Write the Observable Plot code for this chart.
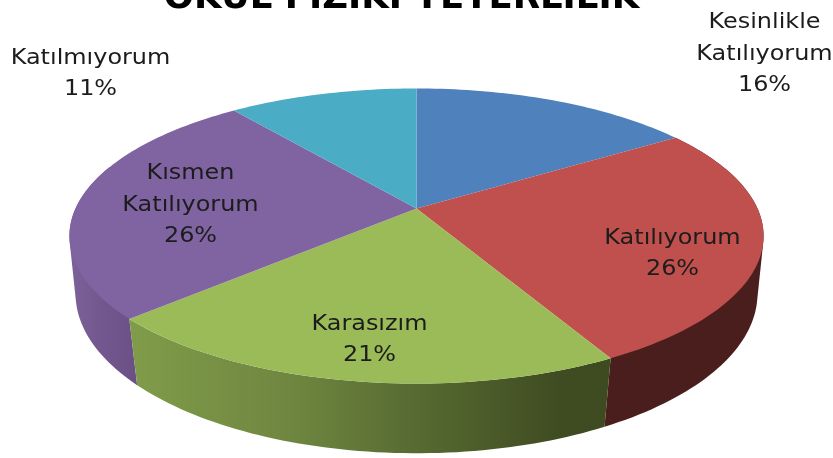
<!DOCTYPE html>
<html><head><meta charset="utf-8">
<script src="https://cdn.jsdelivr.net/npm/d3@7"></script>
<script src="https://cdn.jsdelivr.net/npm/@observablehq/plot@0.6"></script>
<style>html,body{margin:0;padding:0;background:#fff;overflow:hidden}svg{display:block;filter:blur(.45px)}</style>
</head><body><div id="chart"></div>
<script>
const categories = ["Kesinlikle Katılıyorum","Katılıyorum","Karasızım","Kısmen Katılıyorum","Katılmıyorum"];
const counts = [3,5,4,5,2];
const colors = ["#4f81bd","#c0504d","#9bbb59","#8064a2","#4bacc6"];
const labelNames = ["Kesinlikle\nKatılıyorum","Katılıyorum","Karasızım","Kısmen\nKatılıyorum","Katılmıyorum"];
const labelX = [764,672,369,190,90];
const labelY = [49,249,335,200,69];

const W=833,H=458;
const total=d3.sum(counts);
const starts=d3.cumsum([0,...counts]);
const labels=labelNames.map((n,i)=>`${n}\n${Math.round(counts[i]/total*100)}%`);
const top3d={x0:416,y0:208,c:341,a:142.4,b:0.1864};
const bot3d={x0:416,y0:266,c:336,a:155,b:0.17};
const proj=(p,s)=>{const t=s/total*2*Math.PI,X=Math.sin(t),Y=-Math.cos(t),d=1-p.b*Y;
  return {x:p.x0+p.c*X/d,y:p.y0+p.a*Y/d};};
const arc=(p,a,b)=>{const n=Math.max(2,Math.ceil((b-a)*15));return d3.range(n+1).map(i=>proj(p,a+(b-a)*i/n));};

const topPts=categories.flatMap((name,i)=>[{x:top3d.x0,y:top3d.y0},...arc(top3d,starts[i],starts[i+1])].map(p=>({...p,name})));
const wall=(a,b)=>[...arc(top3d,a,b),...arc(bot3d,a,b).reverse()];
const hullWall=(a,b)=>d3.polygonHull(wall(a,b).map(p=>[p.x,p.y])).map(([x,y])=>({x,y}));

const defs=()=>{const s=d3.create("svg:defs");
  const g=(id,stops)=>{const l=s.append("linearGradient").attr("id",id);
    stops.forEach(([o,c])=>l.append("stop").attr("offset",o).attr("stop-color",c));};
  g("gGreen",[[0,"#809c4a"],[.35,"#6e853f"],[.6,"#566a31"],[.9,"#3f4b21"],[1,"#3e4a20"]]);
  g("gRed",[[0,"#4a1e1d"],[1,"#4a1e1d"]]);
  g("gPurple",[[0,"#7c6299"],[.5,"#72578e"],[1,"#6a5085"]]);
  return s.node();};

const chart=Plot.plot({width:W,height:H,margin:0,
  x:{domain:[0,W],range:[0,W],axis:null},
  y:{domain:[0,H],range:[0,H],axis:null},
  color:{domain:categories,range:colors},
  style:{background:"#fff"},
  marks:[
    defs,
    Plot.line(hullWall(starts[1],starts[2]),{x:"x",y:"y",fill:"url(#gRed)",stroke:null}),
    Plot.line(hullWall(starts[3],total*0.8),{x:"x",y:"y",fill:"url(#gPurple)",stroke:null}),
    Plot.line(wall(starts[2],starts[3]),{x:"x",y:"y",fill:"url(#gGreen)",stroke:null}),
    Plot.line(topPts,{x:"x",y:"y",z:"name",fill:"name",stroke:null}),
    Plot.text(labels,{x:(d,i)=>labelX[i],y:(d,i)=>labelY[i],text:d=>d,fontSize:21,lineHeight:1.5,fill:"#1c1c1c",fontFamily:"DejaVu Sans",className:"lbl"}),
    Plot.text(["OKUL FİZİKİ YETERLİLİK"],{x:[401],y:[-4],text:d=>d,fontSize:35.5,fontWeight:700,fill:"#000",fontFamily:"DejaVu Sans"})
  ]});
document.getElementById("chart").append(chart);
// the reference's labels are stretched sideways: widen each glyph run around its own centre
d3.select(chart).selectAll(".lbl text").each(function(){
  const t=this.getAttribute("transform")||`translate(${this.getAttribute("x")||0},${this.getAttribute("y")||0})`;
  this.removeAttribute("x");this.removeAttribute("y");
  this.setAttribute("transform",`${t} scale(1.14,1)`);
});
</script></body></html>
